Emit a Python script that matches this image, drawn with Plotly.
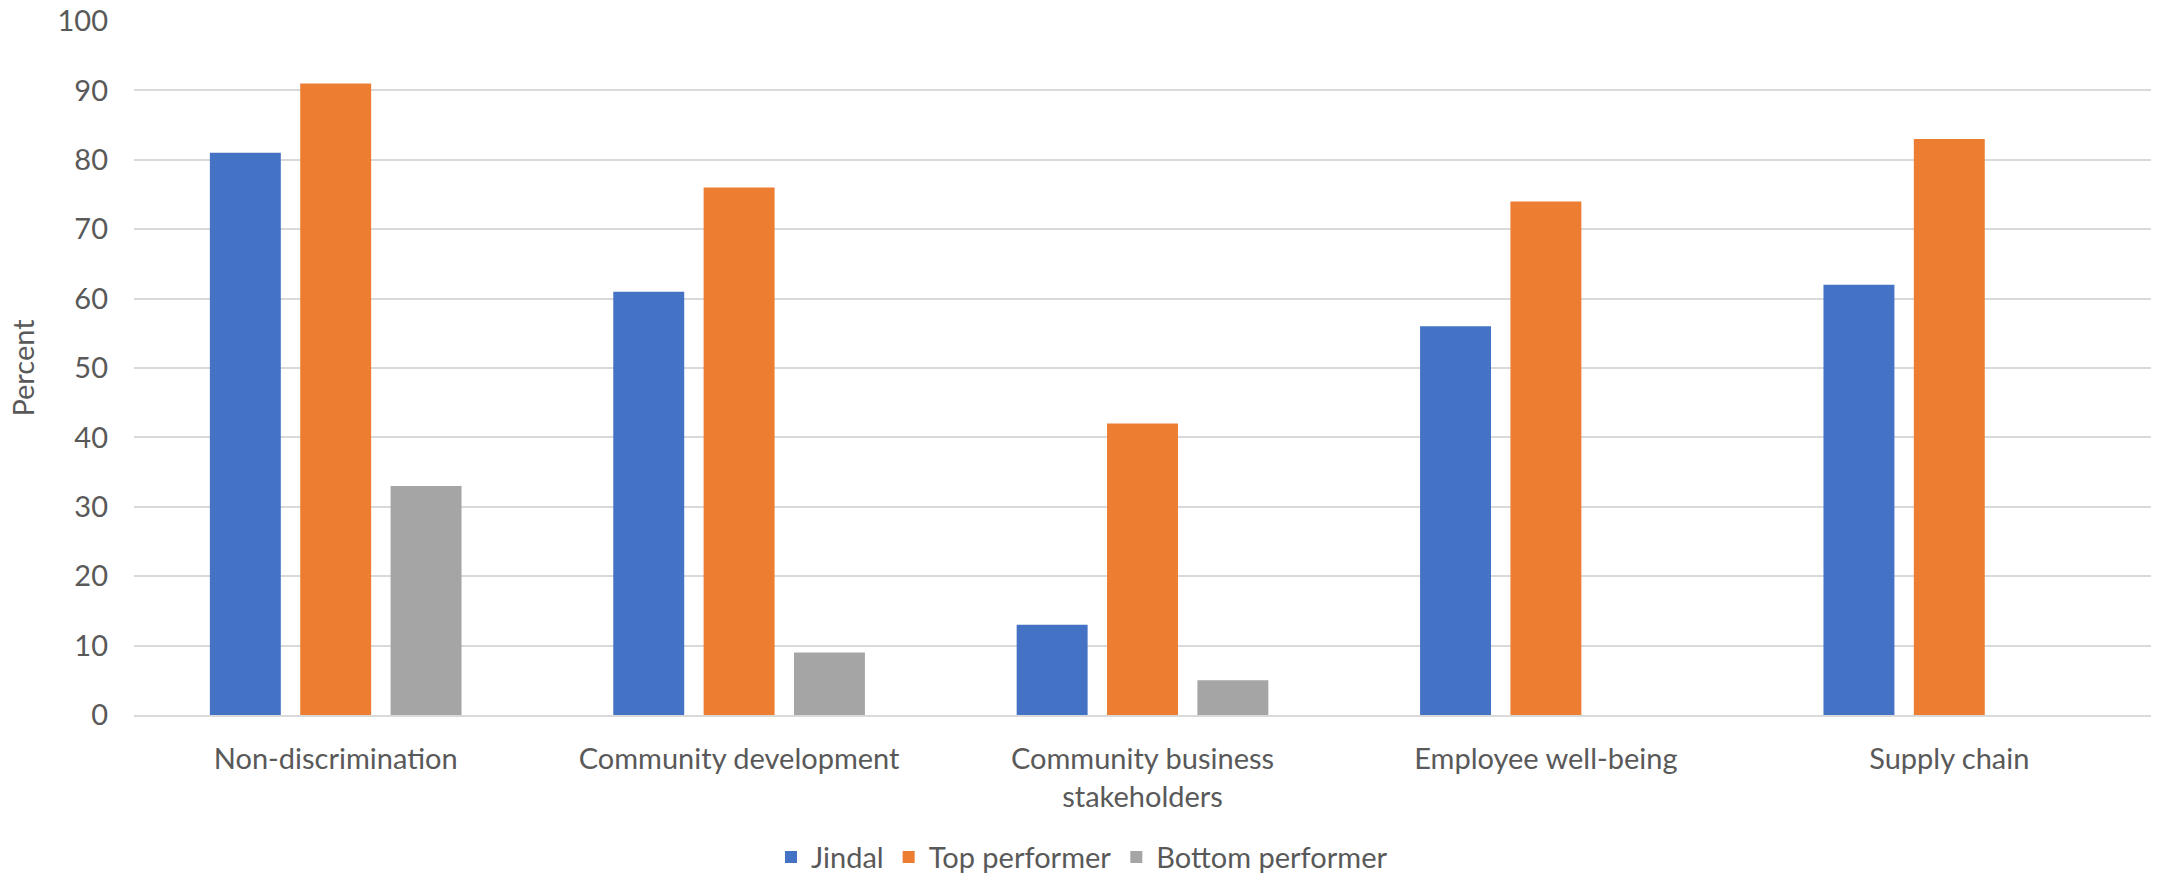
import plotly.graph_objects as go

categories = ["Non-discrimination", "Community development", "Community business<br>stakeholders",
              "Employee well-being", "Supply chain"]
jindal = [81, 61, 13, 56, 62]
top_performer = [91, 76, 42, 74, 83]
bottom_performer = [33, 9, 5, 0, 0]
y_ticks = [0, 10, 20, 30, 40, 50, 60, 70, 80, 90, 100]

FONT = "Lato"
TXT = "#595959"

fig = go.Figure()
fig.add_bar(x=categories, y=jindal, name="Jindal", marker=dict(color="#4472C4", line_width=0))
fig.add_bar(x=categories, y=top_performer, name="Top performer", marker=dict(color="#ED7D31", line_width=0))
fig.add_bar(x=categories, y=bottom_performer, name="Bottom performer", marker=dict(color="#A5A5A5", line_width=0))

fig.update_layout(
    width=2165, height=875, autosize=False,
    margin=dict(l=134, r=14, t=21, b=160, autoexpand=False),
    paper_bgcolor="white", plot_bgcolor="white",
    font=dict(family=FONT, size=29, color=TXT),
    barmode="group", bargap=0.328, bargroupgap=0.215,
    showlegend=True,
    legend=dict(orientation="h", x=0.47, xanchor="center",
                y=-0.205, yanchor="middle", font=dict(size=29, color=TXT),
                itemwidth=30, tracegroupgap=0),
)
fig.update_xaxes(showgrid=False, showline=True, linecolor="#D9D9D9", linewidth=2,
                 ticks="", tickangle=0, automargin=False, ticklabelstandoff=17,
                 tickfont=dict(size=29, color=TXT))
fig.update_yaxes(range=[0, 100], tickvals=y_ticks, showgrid=True, gridcolor="#D9D9D9", gridwidth=2,
                 zeroline=False, showline=False, ticks="", ticklabelstandoff=25, automargin=False,
                 tickfont=dict(size=29, color=TXT),
                 title=dict(text="Percent", font=dict(size=29, color=TXT), standoff=14))

fig.write_html("out.html")
